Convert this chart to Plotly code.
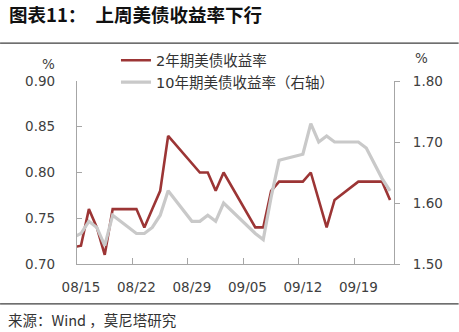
import plotly.graph_objects as go

dates = ["2022-08-12", "2022-08-15", "2022-08-16", "2022-08-17", "2022-08-18", "2022-08-19",
         "2022-08-22", "2022-08-23", "2022-08-24", "2022-08-25", "2022-08-26",
         "2022-08-29", "2022-08-30", "2022-08-31", "2022-09-01", "2022-09-02",
         "2022-09-06", "2022-09-07", "2022-09-08", "2022-09-09",
         "2022-09-12", "2022-09-13", "2022-09-14", "2022-09-15", "2022-09-16",
         "2022-09-19", "2022-09-20", "2022-09-21", "2022-09-22", "2022-09-23"]
y2yr = [0.715, 0.72, 0.76, 0.74, 0.71, 0.76,
        0.76, 0.74, 0.76, 0.78, 0.84,
        0.81, 0.80, 0.80, 0.78, 0.80,
        0.74, 0.74, 0.78, 0.79,
        0.79, 0.80, 0.77, 0.74, 0.77,
        0.79, 0.79, 0.79, 0.79, 0.77]
y10yr = [1.53, 1.55, 1.57, 1.56, 1.53, 1.58,
         1.55, 1.55, 1.56, 1.58, 1.62,
         1.57, 1.57, 1.58, 1.57, 1.60,
         1.55, 1.54, 1.61, 1.67,
         1.68, 1.73, 1.70, 1.71, 1.70,
         1.70, 1.69, 1.665, 1.64, 1.62]
tick_dates = ["2022-08-14 12:00", "2022-08-21 12:00", "2022-08-28 12:00",
              "2022-09-04 12:00", "2022-09-11 12:00", "2022-09-18 12:00"]
tick_text = ["08/15", "08/22", "08/29", "09/05", "09/12", "09/19"]
left_ticks = [0.70, 0.75, 0.80, 0.85, 0.90]
right_ticks = [1.50, 1.60, 1.70, 1.80]
name_2 = "2年期美债收益率"
name_10 = "10年期美债收益率（右轴）"

W, H = 459, 332
L, R, T, B = 77, 394.3, 80.7, 264

def px(x):
    return (x - L) / (R - L)

def py(y):
    return (B - y) / (B - T)

FONT = "DejaVu Sans, Noto Sans CJK SC"
AX = "#A6A6A6"
TXT = "#404040"

fig = go.Figure()
fig.add_trace(go.Scatter(x=dates, y=y2yr, name=name_2, mode="lines",
                         line=dict(color="#9C3535", width=2.6)))
fig.add_trace(go.Scatter(x=dates, y=y10yr, name=name_10, mode="lines", yaxis="y2",
                         line=dict(color="#C9C9C9", width=3.2)))

fig.update_layout(
    width=W, height=H,
    margin=dict(l=L, r=W - R, t=T, b=H - B, pad=0),
    paper_bgcolor="white", plot_bgcolor="white",
    font=dict(family=FONT, size=13.5, color=TXT),
    showlegend=True,
    legend=dict(x=px(116), y=py(44), xanchor="left", yanchor="top",
                font=dict(size=14.5, color="#333333"), bgcolor="rgba(0,0,0,0)",
                tracegroupgap=0),
    xaxis=dict(type="date", range=["2022-08-14 12:00", "2022-09-23 12:00"],
               tickvals=tick_dates, ticktext=tick_text, ticklabelshift=4,
               showline=True, linecolor=AX, linewidth=1.3, mirror=False,
               ticks="inside", ticklen=6, tickcolor=AX, tickwidth=1.3,
               showgrid=False, zeroline=False, ticklabelstandoff=11,
               tickfont=dict(size=13.5, color=TXT)),
    yaxis=dict(range=[0.70, 0.90], tickvals=left_ticks,
               ticktext=[f"{v:.2f}" for v in left_ticks],
               showline=True, linecolor=AX, linewidth=1.3,
               ticks="inside", ticklen=5, tickcolor=AX, tickwidth=1.3,
               showgrid=False, zeroline=False, ticklabelstandoff=18,
               tickfont=dict(size=13.5, color=TXT)),
    yaxis2=dict(range=[1.50, 1.80], tickvals=right_ticks,
                ticktext=[f"{v:.2f}" for v in right_ticks],
                overlaying="y", side="right",
                showline=True, linecolor=AX, linewidth=1.3,
                ticks="outside", ticklen=5, tickcolor=AX, tickwidth=1.3,
                showgrid=False, zeroline=False, ticklabelstandoff=10,
                tickfont=dict(size=13.5, color=TXT)),
)

fig.add_annotation(text="<b>图表11：\u3000上周美债收益率下行</b>", xref="paper", yref="paper",
                   x=px(7), y=py(13.5), xanchor="left", yanchor="middle", showarrow=False,
                   font=dict(family="Noto Sans CJK SC", size=18.5, color="#111111"))
fig.add_annotation(text="来源：Wind ，莫尼塔研究", xref="paper", yref="paper",
                   x=px(6), y=py(320), xanchor="left", yanchor="middle", showarrow=False,
                   font=dict(family="Noto Sans CJK SC", size=14.5, color="#333333"))
fig.add_annotation(text="%", xref="paper", yref="paper", x=px(48), y=py(64),
                   xanchor="center", yanchor="middle", showarrow=False,
                   font=dict(size=13.5, color=TXT))
fig.add_annotation(text="%", xref="paper", yref="paper", x=px(421.7), y=py(57.5),
                   xanchor="center", yanchor="middle", showarrow=False,
                   font=dict(size=13.5, color=TXT))

fig.add_shape(type="line", xref="paper", yref="paper", x0=px(0), x1=px(459),
              y0=py(42.7), y1=py(42.7), line=dict(color="#3F3F3F", width=1.3))
fig.add_shape(type="line", xref="paper", yref="paper", x0=px(0), x1=px(459),
              y0=py(304), y1=py(304), line=dict(color="#3F3F3F", width=1.3))

fig.write_html("out.html")
